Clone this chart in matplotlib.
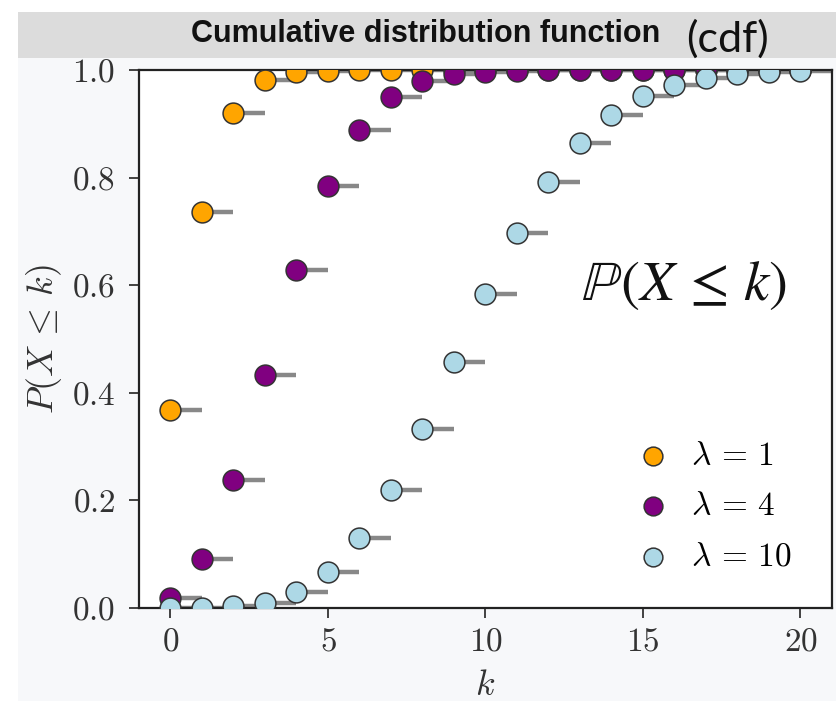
import numpy as np
import matplotlib
matplotlib.use('Agg')
import matplotlib.pyplot as plt
from matplotlib.patches import Rectangle

plt.rcParams['font.family'] = 'serif'
plt.rcParams['font.serif'] = ['cmr10']
plt.rcParams['mathtext.fontset'] = 'cm'
plt.rcParams['axes.formatter.use_mathtext'] = True

# poisson cdf values, k = 0..20
k = list(range(21))
cdf_lam1 = [0.368, 0.736, 0.920, 0.981, 0.996, 0.999, 1.0, 1.0, 1.0, 1.0, 1.0,
            1.0, 1.0, 1.0, 1.0, 1.0, 1.0, 1.0, 1.0, 1.0, 1.0]
cdf_lam4 = [0.018, 0.092, 0.238, 0.433, 0.629, 0.785, 0.889, 0.949, 0.979, 0.992, 0.997,
            0.999, 1.0, 1.0, 1.0, 1.0, 1.0, 1.0, 1.0, 1.0, 1.0]
cdf_lam10 = [0.000, 0.0005, 0.003, 0.010, 0.029, 0.067, 0.130, 0.220, 0.333, 0.458, 0.583,
             0.697, 0.792, 0.865, 0.917, 0.951, 0.973, 0.986, 0.993, 0.997, 0.998]
series = [(cdf_lam1, 'orange', r'$\lambda\,=\,1$'),
          (cdf_lam4, 'purple', r'$\lambda\,=\,4$'),
          (cdf_lam10, 'lightblue', r'$\lambda\,=\,10$')]


def main():
    fig = plt.figure(figsize=(8.37, 7.01), dpi=100, facecolor='white')

    # backdrop panels: light page and grey title bar
    fig.patches.append(Rectangle((18 / 837, 0), 1, 1 - 58 / 701, transform=fig.transFigure,
                                 facecolor='#f7f8fa', edgecolor='none', zorder=-10))
    fig.patches.append(Rectangle((18 / 837, 1 - 58 / 701), 1, 46 / 701, transform=fig.transFigure,
                                 facecolor='#dcdcdc', edgecolor='none', zorder=-10))
    fig.text(426 / 837, 1 - 34 / 701, 'Cumulative distribution function', ha='center', va='center',
             fontsize=22, fontweight='bold', family=['Liberation Sans Narrow', 'Liberation Sans'],
             color='#111111')
    fig.text(727 / 837, 1 - 39 / 701, '(cdf)', ha='center', va='center',
             fontsize=31, family=['Lato', 'DejaVu Sans'], color='#111111')

    ax = fig.add_axes([139 / 837, 1 - 608 / 701, (832 - 139) / 837, (608 - 70) / 701])
    ax.set_facecolor('white')

    kk = np.array(k)
    for vals, col, lab in series:
        vals = np.array(vals)
        ax.hlines(vals, kk, kk + 1, color='#888888', lw=3.2, zorder=2)
        ax.scatter(kk, vals, s=225, color=col, edgecolors='#333333',
                   linewidths=1.1, zorder=3, label=lab)

    ax.set_xlim(-1, 21)
    ax.set_ylim(0, 1)
    ax.set_xticks([0, 5, 10, 15, 20])
    ax.set_yticks([0.0, 0.2, 0.4, 0.6, 0.8, 1.0])
    ax.tick_params(direction='out', length=7, width=1.3, labelsize=24, pad=7,
                   colors='#333333', labelcolor='#333333')
    ax.tick_params(axis='y', pad=10)
    for s in ax.spines.values():
        s.set_linewidth(1.6)
        s.set_color('#222222')

    ax.set_ylabel(r'$P(X\,\leq\,k)$', fontsize=26, color='#333333', labelpad=6)
    ax.set_xlabel(r'$k$', fontsize=26, color='#333333', labelpad=10)

    ax.legend(loc='lower right', frameon=False, fontsize=24, markerscale=0.9,
              handlelength=1.6, handletextpad=0.35, labelspacing=0.63,
              bbox_to_anchor=(0.985, 0.012))

    ax.text(0.786, 0.600, r'$\mathbb{P}(X\,\leq\,k)$', transform=ax.transAxes, ha='center', va='center',
            fontsize=41, math_fontfamily='stix', color='#111111')

    fig.savefig('out.png', dpi=100, facecolor=fig.get_facecolor())


if __name__ == '__main__':
    main()
